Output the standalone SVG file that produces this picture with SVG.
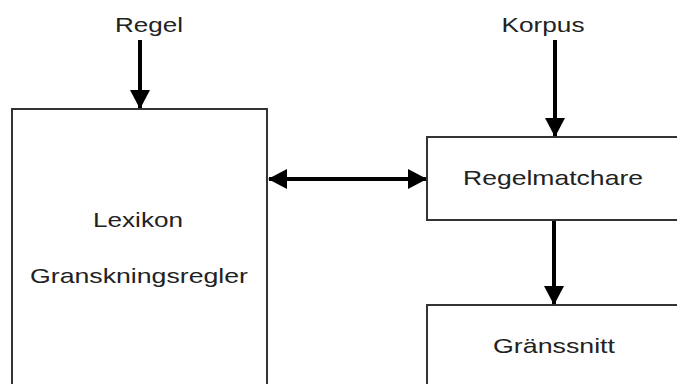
<svg xmlns="http://www.w3.org/2000/svg" width="677" height="384" viewBox="0 0 677 384">
<style>
.box{fill:#fff;stroke:#333;stroke-width:2}
.t{font-family:"Liberation Sans",Arial,sans-serif;font-size:21px;fill:#222;text-anchor:middle}
.c{stroke:#000;stroke-width:4;fill:none}
</style>
<defs>
<marker id="ah" markerUnits="userSpaceOnUse" markerWidth="20" markerHeight="22" refX="18" refY="10" orient="auto-start-reverse" viewBox="0 0 20 20">
<path d="M0,0 L19,10 L0,20 Z" fill="#000"/>
</marker>
</defs>
<rect width="677" height="384" fill="#fff"/>
<g id="lexikon">
<rect class="box" x="12" y="109" width="255" height="290"/>
<text class="t" x="138" y="227" textLength="90" lengthAdjust="spacingAndGlyphs">Lexikon</text>
<text class="t" x="139" y="283" textLength="218" lengthAdjust="spacingAndGlyphs">Granskningsregler</text>
</g>
<g id="regelmatchare">
<rect class="box" x="427" y="137" width="270" height="83"/>
<text class="t" x="553" y="185" textLength="180" lengthAdjust="spacingAndGlyphs">Regelmatchare</text>
</g>
<g id="granssnitt">
<rect class="box" x="427" y="305" width="270" height="100"/>
<text class="t" x="554" y="353" textLength="122" lengthAdjust="spacingAndGlyphs">Gränssnitt</text>
</g>
<g id="regel">
<text class="t" x="149" y="32" textLength="68" lengthAdjust="spacingAndGlyphs">Regel</text>
</g>
<g id="korpus">
<text class="t" x="543" y="32" textLength="83" lengthAdjust="spacingAndGlyphs">Korpus</text>
</g>
<g id="connectors">
<line class="c" x1="140" y1="40" x2="140" y2="108" marker-end="url(#ah)"/>
<line class="c" x1="555" y1="40" x2="555" y2="136" marker-end="url(#ah)"/>
<line class="c" x1="554" y1="221" x2="554" y2="304" marker-end="url(#ah)"/>
<line class="c" x1="269" y1="179" x2="426" y2="179" marker-start="url(#ah)" marker-end="url(#ah)"/>
</g>
</svg>
